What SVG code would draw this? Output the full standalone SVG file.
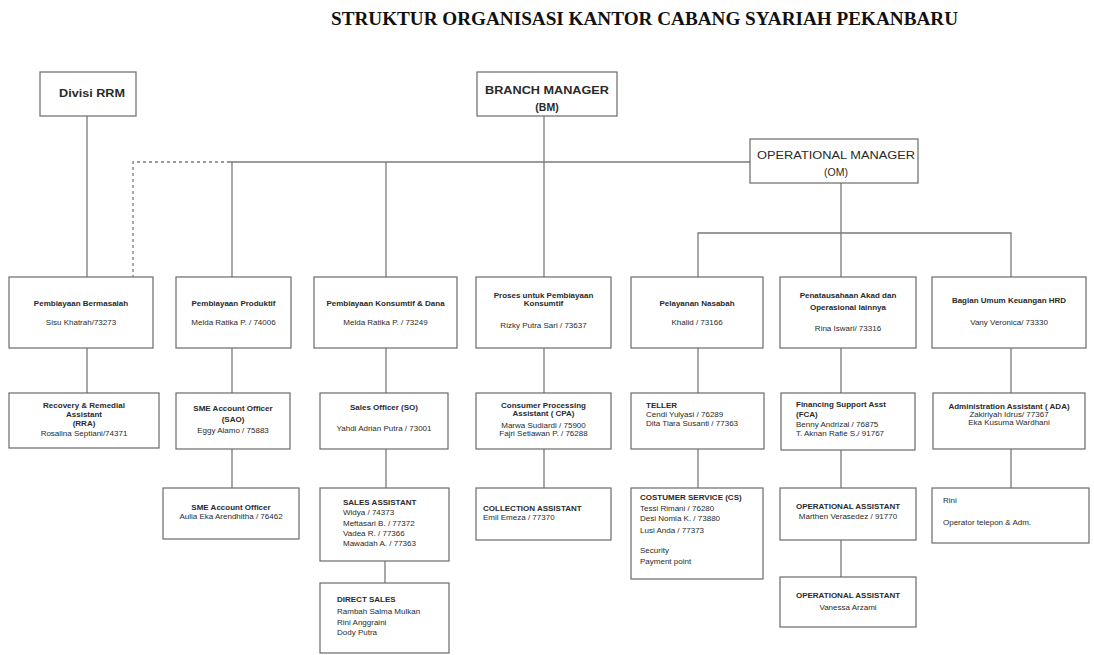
<svg xmlns="http://www.w3.org/2000/svg" width="1094" height="655" viewBox="0 0 1094 655">
<style>
.box{fill:#fff;stroke:#6a6a6a;stroke-width:1.2}
.ln{stroke:#7a7a7a;stroke-width:1.3;fill:none}
.dash{stroke-dasharray:3 3}
text{font-family:"Liberation Sans",Arial,sans-serif;font-size:8px;fill:#2a2a2a}
.h{font-weight:bold}
.c{text-anchor:middle}
.big{font-size:10.5px}
.title{font-family:"Liberation Serif","Times New Roman",serif;font-size:19px;font-weight:bold;fill:#111}
</style>
<rect width="1094" height="655" fill="#fff"/>
<text class="title" x="331" y="25" textLength="627" lengthAdjust="spacingAndGlyphs">STRUKTUR ORGANISASI KANTOR CABANG SYARIAH PEKANBARU</text>

<g id="connectors">
<line class="ln" x1="87" y1="116" x2="87" y2="277"/>
<path class="ln dash" d="M230,162 H133 V277"/>
<line class="ln" x1="230" y1="162" x2="750" y2="162"/>
<line class="ln" x1="544" y1="116" x2="544" y2="277"/>
<line class="ln" x1="232" y1="162" x2="232" y2="277"/>
<line class="ln" x1="386" y1="162" x2="386" y2="277"/>
<line class="ln" x1="841" y1="183" x2="841" y2="277"/>
<path class="ln" d="M698,277 V233 H1011 V277"/>
<line class="ln" x1="87" y1="348" x2="87" y2="393"/>
<line class="ln" x1="232" y1="348" x2="232" y2="488"/>
<line class="ln" x1="386" y1="348" x2="386" y2="488"/>
<line class="ln" x1="544" y1="348" x2="544" y2="488"/>
<line class="ln" x1="698" y1="348" x2="698" y2="488"/>
<line class="ln" x1="841" y1="348" x2="841" y2="488"/>
<line class="ln" x1="1011" y1="348" x2="1011" y2="488"/>
<line class="ln" x1="385" y1="561" x2="385" y2="583"/>
<line class="ln" x1="841" y1="540" x2="841" y2="577"/>
</g>

<g id="divisi-rrm">
<rect class="box" x="40" y="72" width="96" height="44"/>
<text class="h big" x="59" y="97" fill="#333" textLength="66" lengthAdjust="spacingAndGlyphs">Divisi RRM</text>
</g>
<g id="branch-manager">
<rect class="box" x="477" y="72" width="140" height="44"/>
<text class="h big c" x="547" y="94" textLength="124" lengthAdjust="spacingAndGlyphs">BRANCH MANAGER</text>
<text class="h big c" x="547" y="111">(BM)</text>
</g>
<g id="operational-manager">
<rect class="box" x="750" y="139" width="168" height="44"/>
<text class="big c" x="836" y="159" textLength="158" lengthAdjust="spacingAndGlyphs">OPERATIONAL MANAGER</text>
<text class="big c" x="836" y="176">(OM)</text>
</g>

<g id="pembiayaan-bermasalah">
<rect class="box" x="9" y="277" width="144" height="71"/>
<text class="h c" x="81" y="306">Pembiayaan Bermasalah</text>
<text class="c" x="81" y="325">Sisu Khatrah/73273</text>
</g>
<g id="pembiayaan-produktif">
<rect class="box" x="176" y="277" width="115" height="71"/>
<text class="h c" x="233.5" y="306">Pembiayaan Produktif</text>
<text class="c" x="233.5" y="325">Melda Ratika P. / 74006</text>
</g>
<g id="pembiayaan-konsumtif">
<rect class="box" x="314" y="277" width="143" height="71"/>
<text class="h c" x="385.5" y="306">Pembiayaan Konsumtif &amp; Dana</text>
<text class="c" x="385.5" y="325">Melda Ratika P. / 73249</text>
</g>
<g id="proses-pembiayaan">
<rect class="box" x="476" y="277" width="135" height="71"/>
<text class="h c" x="543.5" y="298">Proses untuk Pembiayaan</text>
<text class="h c" x="543.5" y="306">Konsumtif</text>
<text class="c" x="543.5" y="328">Rizky Putra Sari / 73637</text>
</g>
<g id="pelayanan-nasabah">
<rect class="box" x="631" y="277" width="132" height="71"/>
<text class="h c" x="697" y="306">Pelayanan Nasabah</text>
<text class="c" x="697" y="325">Khalid / 73166</text>
</g>
<g id="penatausahaan-akad">
<rect class="box" x="780" y="277" width="136" height="71"/>
<text class="h c" x="848" y="298">Penatausahaan Akad dan</text>
<text class="h c" x="848" y="310">Operasional lainnya</text>
<text class="c" x="848" y="331">Rina Iswari/ 73316</text>
</g>
<g id="bagian-umum">
<rect class="box" x="932" y="277" width="154" height="71"/>
<text class="h c" x="1009" y="303">Bagian Umum Keuangan  HRD</text>
<text class="c" x="1009" y="325">Vany Veronica/ 73330</text>
</g>

<g id="recovery-remedial">
<rect class="box" x="9" y="393" width="150" height="55"/>
<text class="h c" x="84" y="408">Recovery &amp; Remedial</text>
<text class="h c" x="84" y="417">Assistant</text>
<text class="h c" x="84" y="426">(RRA)</text>
<text class="c" x="84" y="436">Rosalina Septiani/74371</text>
</g>
<g id="sme-ao-1">
<rect class="box" x="176" y="393" width="114" height="56"/>
<text class="h c" x="233" y="411">SME Account Officer</text>
<text class="h c" x="233" y="422">(SAO)</text>
<text class="c" x="233" y="433">Eggy Alamo / 75883</text>
</g>
<g id="sales-officer">
<rect class="box" x="320" y="393" width="128" height="56"/>
<text class="h c" x="384" y="410">Sales Officer (SO)</text>
<text class="c" x="384" y="431">Yahdi Adrian Putra / 73001</text>
</g>
<g id="cpa">
<rect class="box" x="476" y="393" width="135" height="56"/>
<text class="h c" x="543.5" y="408">Consumer Processing</text>
<text class="h c" x="543.5" y="416">Assistant ( CPA)</text>
<text class="c" x="543.5" y="428">Marwa Sudiardi / 75900</text>
<text class="c" x="543.5" y="436">Fajri Setiawan P. / 76288</text>
</g>
<g id="teller">
<rect class="box" x="631" y="393" width="133" height="56"/>
<text class="h" x="646" y="408">TELLER</text>
<text x="646" y="417">Cendi Yulyasi / 76289</text>
<text x="646" y="426">Dita Tiara Susanti / 77363</text>
</g>
<g id="fca">
<rect class="box" x="781" y="393" width="134" height="57"/>
<text class="h" x="796" y="407">Financing Support Asst</text>
<text class="h" x="796" y="417">(FCA)</text>
<text x="796" y="427">Benny Andrizal / 76875</text>
<text x="796" y="436">T. Aknan Rafie S./ 91767</text>
</g>
<g id="ada">
<rect class="box" x="933" y="393" width="152" height="56"/>
<text class="h c" x="1009" y="409">Administration Assistant ( ADA)</text>
<text class="c" x="1009" y="417">Zakiriyah Idrus/ 77367</text>
<text class="c" x="1009" y="425">Eka Kusuma Wardhani</text>
</g>

<g id="sme-ao-2">
<rect class="box" x="163" y="488" width="136" height="51"/>
<text class="h c" x="231" y="510">SME Account Officer</text>
<text class="c" x="231" y="519">Aulia Eka Arendhitha / 76462</text>
</g>
<g id="sales-assistant">
<rect class="box" x="320" y="488" width="129" height="73"/>
<text class="h" x="343" y="505">SALES ASSISTANT</text>
<text x="343" y="515">Widya / 74373</text>
<text x="343" y="526">Meftasari B.  / 77372</text>
<text x="343" y="536">Vadea R. / 77366</text>
<text x="343" y="546">Mawadah A.  / 77363</text>
</g>
<g id="collection-assistant">
<rect class="box" x="476" y="488" width="135" height="52"/>
<text class="h" x="483" y="511">COLLECTION  ASSISTANT</text>
<text x="483" y="520">Emil Emeza / 77370</text>
</g>
<g id="customer-service">
<rect class="box" x="631" y="488" width="132" height="91"/>
<text class="h" x="640" y="500">COSTUMER SERVICE (CS)</text>
<text x="640" y="511">Tessi Rimani / 76280</text>
<text x="640" y="521">Desi Nomia K. / 73880</text>
<text x="640" y="533">Lusi Anda / 77373</text>
<text x="640" y="553">Security</text>
<text x="640" y="564">Payment  point</text>
</g>
<g id="operational-assistant-1">
<rect class="box" x="780" y="488" width="136" height="52"/>
<text class="h c" x="848" y="509">OPERATIONAL ASSISTANT</text>
<text class="c" x="848" y="519">Marthen Verasedez / 91770</text>
</g>
<g id="operator-telepon">
<rect class="box" x="932" y="488" width="157" height="55"/>
<text x="943" y="503">Rini</text>
<text x="943" y="525">Operator telepon &amp; Adm.</text>
</g>

<g id="direct-sales">
<rect class="box" x="320" y="583" width="129" height="70"/>
<text class="h" x="337" y="602">DIRECT SALES</text>
<text x="337" y="614">Rambah Salma Mulkan</text>
<text x="337" y="625">Rini Anggraini</text>
<text x="337" y="635">Dody Putra</text>
</g>
<g id="operational-assistant-2">
<rect class="box" x="780" y="577" width="136" height="50"/>
<text class="h c" x="848" y="598">OPERATIONAL ASSISTANT</text>
<text class="c" x="848" y="610">Vanessa Arzami</text>
</g>
</svg>
